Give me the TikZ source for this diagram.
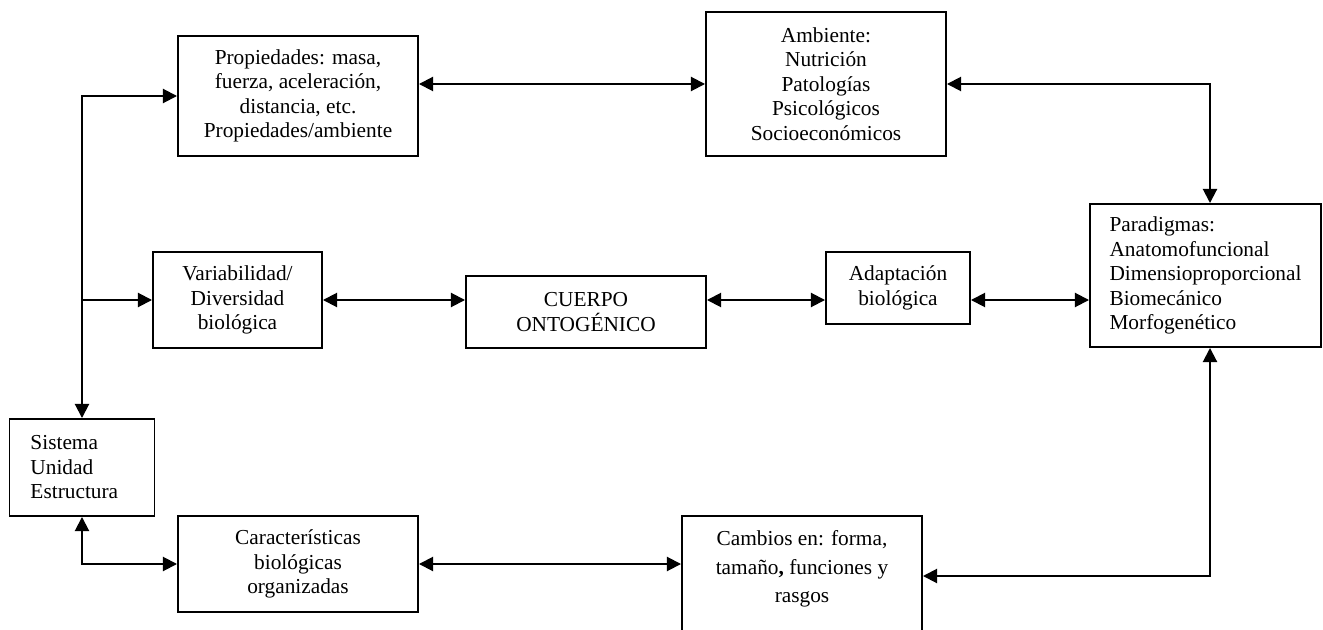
\documentclass[tikz,border=0pt]{standalone}
\usepackage{fontspec}
\setmainfont{Liberation Serif}
\usetikzlibrary{arrows.meta}
\begin{document}
\begin{tikzpicture}[x=0.5625pt,y=-0.5625pt,
  bx/.style 2 args={draw, line width=1.1pt, minimum width=#1*0.5625pt, minimum height=#2*0.5625pt, inner sep=0pt, align=center, font=\fontsize{12}{13.8}\selectfont},
  txt/.style={inner sep=0pt, align=center, font=\fontsize{12}{13.8}\selectfont},
  tip/.tip={Triangle[length=8pt,width=8pt]},
  arr/.style={line width=1.1pt, -tip},
  arr2/.style={line width=1.1pt, tip-tip}]
\useasboundingbox (0,0) rectangle (1323,630);

\node[bx={240}{120}] (prop) at (298,96) {Propiedades: masa,\\fuerza, aceleración,\\distancia, etc.\\Propiedades/ambiente};
\node[bx={240}{144}] (amb) at (826,84) {Ambiente:\\Nutrición\\Patologías\\Psicológicos\\Socioeconómicos};
\node[bx={231}{143}, align=left] (para) at (1205.5,275.5) {Paradigmas:\\Anatomofuncional\\Dimensioproporcional\\Biomecánico\\Morfogenético};
\node[bx={169}{96}] (var) at (237.5,300) {Variabilidad/\\Diversidad\\biológica};
\node[bx={240}{72}] (cue) at (586,312) {CUERPO\\ONTOGÉNICO};
\node[bx={144}{72}] (adap) at (898,288) {Adaptación\\biológica};
\node[bx={145}{97}, align=left, text width=103*0.5625pt] (sis) at (82,467.5) {Sistema\\Unidad\\Estructura};
\node[bx={240}{96}] (car) at (298,564) {Características\\biológicas\\organizadas};
\node[bx={240}{134}] (cam) at (802,583) {};
\node[txt, font=\fontsize{12}{16}\selectfont] (camtxt) at (802,569) {Cambios en: forma,\\tamaño{\bfseries ,} funciones y\\rasgos};

\coordinate (j2) at (82,300);
\coordinate (vx) at (1210,0);
\coordinate (yc) at (0,576);

\draw[arr2] (prop.west) -| (sis.north);
\draw[arr] (j2) -- (var.west);
\draw[arr2] (sis.south) |- (car.west);
\draw[arr2] (prop.east |- amb.west) -- (amb.west);
\draw[arr2] (amb.east) -| (vx |- para.north);
\draw[arr2] (var.east) -- (var.east -| cue.west);
\draw[arr2] (cue.east |- var.east) -- (adap.west |- var.east);
\draw[arr2] (adap.east |- var.east) -- (para.west |- var.east);
\draw[arr2] (car.east) -- (car.east -| cam.west);
\draw[arr2] (cam.east |- yc) -| (vx |- para.south);
\end{tikzpicture}
\end{document}
